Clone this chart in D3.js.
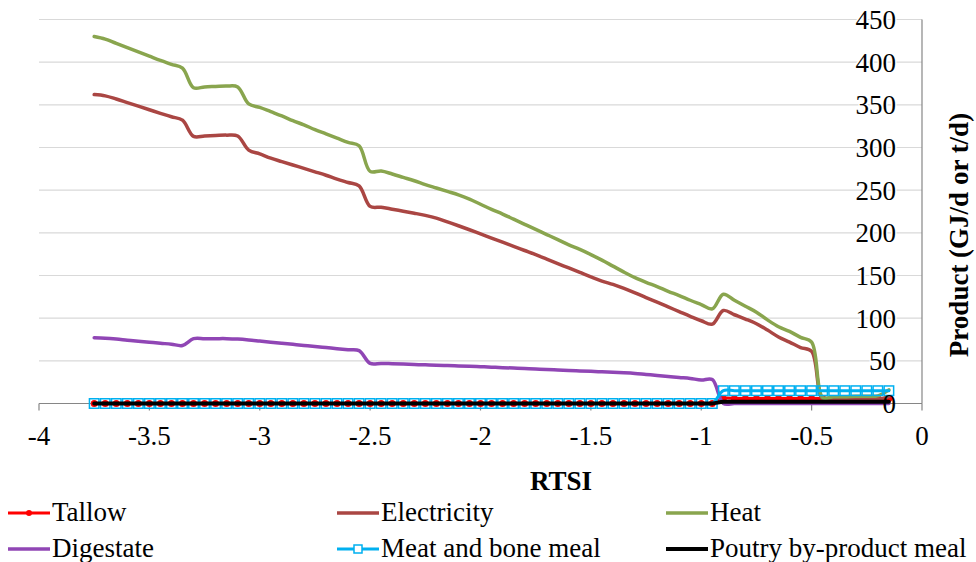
<!DOCTYPE html>
<html>
<head>
<meta charset="utf-8">
<script src="https://cdn.jsdelivr.net/npm/d3@7"></script>
<style>
  body { margin: 0; background: #fff; }
  svg { display: block; }
</style>
</head>
<body>
<svg id="chart" width="976" height="562"></svg>
<script>
// RTSI values (x) shared by every series
const rtsi = [
  -3.75, -3.7, -3.65, -3.6, -3.55, -3.5, -3.45, -3.4, -3.35, -3.3,
  -3.25, -3.2, -3.15, -3.1, -3.05, -3, -2.95, -2.9, -2.85, -2.8,
  -2.75, -2.7, -2.65, -2.6, -2.55, -2.5, -2.45, -2.4, -2.35, -2.3,
  -2.25, -2.2, -2.15, -2.1, -2.05, -2, -1.95, -1.9, -1.85, -1.8,
  -1.75, -1.7, -1.65, -1.6, -1.55, -1.5, -1.45, -1.4, -1.35, -1.3,
  -1.25, -1.2, -1.15, -1.1, -1.05, -1, -0.95, -0.9, -0.85, -0.8,
  -0.75, -0.7, -0.65, -0.6, -0.55, -0.5, -0.45, -0.4, -0.35, -0.3,
  -0.25, -0.2, -0.15
];

const tallow = [
  0, 0, 0, 0, 0, 0, 0, 0, 0, 0,
  0, 0, 0, 0, 0, 0, 0, 0, 0, 0,
  0, 0, 0, 0, 0, 0, 0, 0, 0, 0,
  0, 0, 0, 0, 0, 0, 0, 0, 0, 0,
  0, 0, 0, 0, 0, 0, 0, 0, 0, 0,
  0, 0, 0, 0, 0, 0, 0, 6, 6, 6,
  6, 6, 6, 6, 6, 6, 6, 6, 6, 6,
  6, 6, 6
];

const electricity = [
  362, 360.5, 356.8, 352.6, 348.4, 344.2, 340, 336, 332, 313,
  313.5, 314, 314.5, 313.5, 297, 292.5, 287.5, 283.5, 279.5, 275.5,
  271.5, 267.5, 263, 259, 255, 231, 230, 227.7, 225.3, 223,
  220.5, 217.3, 212.8, 208.3, 203.6, 198.7, 193.9, 189, 184.2, 179.3,
  174.4, 169.2, 164, 158.8, 153.6, 148.4, 143.5, 139.5, 134.9, 129.7,
  124.1, 118.7, 113.2, 107.7, 102.2, 97, 93, 109, 104, 99,
  93.5, 86, 78, 72, 65.5, 61, 5, 5, 5, 5,
  5, 5, 8
];

const heat = [
  430, 427, 422, 417, 412, 407, 402, 397.5, 393, 370,
  371, 371.5, 372, 371, 351, 347, 342, 337, 331.5, 326.5,
  321, 316, 311, 306, 302, 272, 272.5, 269, 265, 261,
  256.5, 252.5, 248.5, 244.5, 239.5, 233.5, 227.5, 222, 216, 210,
  204, 198, 192, 186, 180.5, 174.5, 168, 161, 154, 147.5,
  142, 137, 131.5, 126.5, 121, 116, 111, 128, 121, 114,
  107, 98, 90, 84.5, 77.5, 72, 7, 8, 8, 8.5,
  8.5, 9, 16
];

const digestate = [
  77, 76.5, 75.5, 74.2, 73, 71.8, 70.6, 69.5, 68, 76,
  76, 76, 76, 75.5, 74.5, 73.2, 71.9, 70.6, 69.3, 68,
  66.8, 65.5, 64.2, 63, 62, 47, 47, 46.6, 46.2, 45.7,
  45.3, 44.9, 44.4, 44, 43.6, 43.1, 42.6, 42, 41.5, 40.9,
  40.4, 39.9, 39.3, 38.8, 38.2, 37.7, 37.1, 36.6, 36, 35.2,
  34, 32.9, 31.7, 30.5, 29.4, 27.5, 28, 0, 0, 0,
  0, 0, 0, 0, 0, 0, 0, 0, 0, 0,
  0, 0, 0
];

const meatBoneMeal = [
  0, 0, 0, 0, 0, 0, 0, 0, 0, 0,
  0, 0, 0, 0, 0, 0, 0, 0, 0, 0,
  0, 0, 0, 0, 0, 0, 0, 0, 0, 0,
  0, 0, 0, 0, 0, 0, 0, 0, 0, 0,
  0, 0, 0, 0, 0, 0, 0, 0, 0, 0,
  0, 0, 0, 0, 0, 0, 0, 15, 15, 15,
  15, 15, 15, 15, 15, 15, 15, 15, 15, 15,
  15, 15, 15
];

const poultryMeal = [
  0, 0, 0, 0, 0, 0, 0, 0, 0, 0,
  0, 0, 0, 0, 0, 0, 0, 0, 0, 0,
  0, 0, 0, 0, 0, 0, 0, 0, 0, 0,
  0, 0, 0, 0, 0, 0, 0, 0, 0, 0,
  0, 0, 0, 0, 0, 0, 0, 0, 0, 0,
  0, 0, 0, 0, 0, 0, 0, 2, 2, 2,
  2, 2, 2, 2, 2, 2, 2, 2, 2, 2,
  2, 2, 2
];

const seriesNames = ["Tallow", "Electricity", "Heat", "Digestate", "Meat and bone meal", "Poutry by-product meal"];
const xTicks = [-4, -3.5, -3, -2.5, -2, -1.5, -1, -0.5, 0];
const yTicks = [0, 50, 100, 150, 200, 250, 300, 350, 400, 450];

const series = [
  { name: seriesNames[0], values: tallow,       color: "#FF0000", width: 3,   marker: "circle" },
  { name: seriesNames[1], values: electricity,  color: "#AA4643", width: 3.5, marker: null },
  { name: seriesNames[2], values: heat,         color: "#89A54E", width: 3.5, marker: null },
  { name: seriesNames[3], values: digestate,    color: "#9046B5", width: 3.5, marker: null },
  { name: seriesNames[4], values: meatBoneMeal, color: "#00B0F0", width: 3,   marker: "square" },
  { name: seriesNames[5], values: poultryMeal,  color: "#000000", width: 4,   marker: null }
];

const FONT = "Liberation Serif";
const svg = d3.select("#chart");
const x = d3.scaleLinear().domain([-4, 0]).range([39, 922]);
const y = d3.scaleLinear().domain([0, 450]).range([403.5, 19.5]);
const FS = 27;

// horizontal gridlines
svg.append("g").selectAll("line")
  .data(yTicks.filter(t => t > 0))
  .join("line")
  .attr("x1", x(-4)).attr("x2", x(0))
  .attr("y1", d => y(d)).attr("y2", d => y(d))
  .attr("stroke", "#D9D9D9").attr("stroke-width", 1.2);

// x axis line with downward ticks
const axisColor = "#868686";
svg.append("line")
  .attr("x1", x(-4)).attr("x2", x(0))
  .attr("y1", y(0)).attr("y2", y(0))
  .attr("stroke", axisColor).attr("stroke-width", 1.2);
svg.append("g").selectAll("line")
  .data(xTicks)
  .join("line")
  .attr("x1", d => x(d)).attr("x2", d => x(d))
  .attr("y1", y(0)).attr("y2", y(0) + 7)
  .attr("stroke", axisColor).attr("stroke-width", 1.2);

// y axis line on the right (crosses at RTSI = 0)
svg.append("line")
  .attr("x1", x(0)).attr("x2", x(0))
  .attr("y1", y(450)).attr("y2", y(0))
  .attr("stroke", axisColor).attr("stroke-width", 1.2);

// series lines
const line = d3.line()
  .x((d, i) => x(rtsi[i]))
  .y(d => y(d))
  .curve(d3.curveCatmullRom.alpha(0.5));

series.forEach(s => {
  const g = svg.append("g");
  g.append("path")
    .attr("d", line(s.values))
    .attr("fill", "none")
    .attr("stroke", s.color)
    .attr("stroke-width", s.width)
    .attr("stroke-linejoin", "round")
    .attr("stroke-linecap", "round");
  if (s.marker === "circle") {
    g.selectAll("circle").data(s.values).join("circle")
      .attr("cx", (d, i) => x(rtsi[i]))
      .attr("cy", d => y(d))
      .attr("r", 3.5)
      .attr("fill", s.color);
  } else if (s.marker === "square") {
    const side = 9.5;
    g.selectAll("rect").data(s.values).join("rect")
      .attr("x", (d, i) => x(rtsi[i]) - side / 2)
      .attr("y", d => y(d) - side / 2)
      .attr("width", side).attr("height", side)
      .attr("fill", "none")
      .attr("stroke", s.color)
      .attr("stroke-width", 1.5);
  }
});

// x tick labels
svg.append("g").selectAll("text")
  .data(xTicks)
  .join("text")
  .attr("x", d => x(d))
  .attr("y", 445)
  .attr("text-anchor", "middle")
  .style("font-family", FONT)
  .attr("font-size", FS)
  .text(d => String(d));

// y tick labels, sitting just left of the right-hand axis
svg.append("g").selectAll("text")
  .data(yTicks)
  .join("text")
  .attr("x", 896)
  .attr("y", d => y(d) + 9.5)
  .attr("text-anchor", "end")
  .style("font-family", FONT)
  .attr("font-size", FS)
  .attr("stroke", d => d === 0 ? "none" : "#fff")
  .attr("stroke-width", 3)
  .attr("paint-order", "stroke")
  .text(d => String(d));

// axis titles
svg.append("text")
  .attr("x", 561).attr("y", 490)
  .attr("text-anchor", "middle")
  .style("font-family", FONT)
  .attr("font-size", FS).attr("font-weight", "bold")
  .text("RTSI");

svg.append("text")
  .attr("transform", "translate(968,235) rotate(-90)")
  .attr("text-anchor", "middle")
  .style("font-family", FONT)
  .attr("font-size", FS).attr("font-weight", "bold")
  .text("Product (GJ/d or t/d)");

// legend: three columns, two rows
const legendCols = [8, 337, 666];
const legendRows = [513, 549];
series.forEach((s, i) => {
  const lx = legendCols[i % 3];
  const ly = legendRows[Math.floor(i / 3)];
  const g = svg.append("g");
  g.append("line")
    .attr("x1", lx).attr("x2", lx + 42)
    .attr("y1", ly).attr("y2", ly)
    .attr("stroke", s.color).attr("stroke-width", s.width);
  if (s.marker === "circle") {
    g.append("circle").attr("cx", lx + 21).attr("cy", ly).attr("r", 3).attr("fill", s.color);
  } else if (s.marker === "square") {
    g.append("rect").attr("x", lx + 17).attr("y", ly - 4).attr("width", 8).attr("height", 8)
      .attr("fill", "#fff").attr("stroke", s.color).attr("stroke-width", 1.5);
  }
  g.append("text")
    .attr("x", lx + 44).attr("y", ly + 8)
    .style("font-family", FONT)
    .attr("font-size", FS)
    .text(s.name);
});
</script>
</body>
</html>
